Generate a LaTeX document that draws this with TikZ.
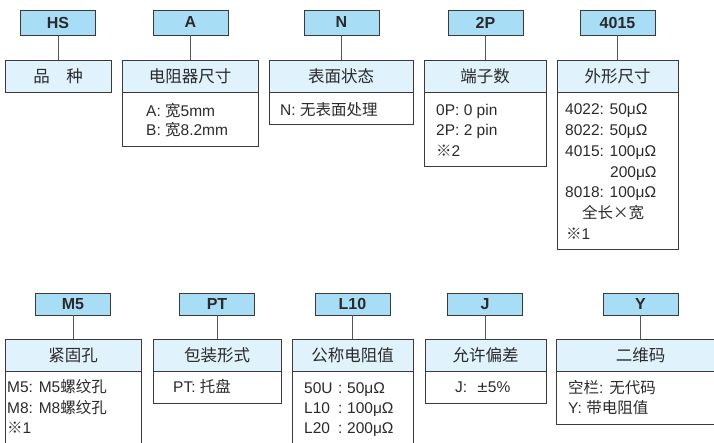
\documentclass[tikz,border=0pt]{standalone}
\usepackage{fontspec}
\setmainfont{Liberation Sans}
\newfontfamily\cjk{Noto Sans CJK SC}
\definecolor{codefill}{HTML}{A8DDF6}
\definecolor{titlefill}{HTML}{E0F2FB}
\definecolor{edgecol}{HTML}{3A3A3A}
\definecolor{wirecol}{HTML}{555555}
\definecolor{ink}{HTML}{2A2A2A}
\tikzset{
  codebox/.style={draw=edgecol, fill=codefill, line width=0.9pt, minimum width=75pt, minimum height=25pt, inner sep=0pt, font=\fontsize{16}{16}\selectfont\bfseries, text=ink},
  titlebox/.style={draw=edgecol, fill=titlefill, line width=0.9pt, inner sep=0pt, font=\cjk\fontsize{16.5}{16.5}\selectfont, text=ink},
  bodybox/.style={draw=edgecol, line width=0.9pt},
  conn/.style={draw=wirecol, line width=0.9pt},
  txt/.style={anchor=base west, inner sep=0pt, font=\fontsize{15.5}{15.5}\selectfont, text=ink},
}
\begin{document}
\begin{tikzpicture}[x=1pt,y=-1pt]
\useasboundingbox (0,0) rectangle (714,443);
% ---------- top row ----------
\draw[bodybox] (122,92) rectangle (258,146);
\draw[bodybox] (269,92) rectangle (413,124);
\draw[bodybox] (424,92) rectangle (546,166);
\draw[bodybox] (557,92) rectangle (678,249);
\node[codebox] (c1) at (58,22.5) {HS};
\node[codebox] (c2) at (190.5,22.5) {A};
\node[codebox] (c3) at (341.5,22.5) {N};
\node[codebox] (c4) at (485.5,22.5) {2P};
\node[codebox] (c5) at (617.5,22.5) {4015};
\node[titlebox, minimum width=106pt, minimum height=31.5pt] (t1) at (58,76.25) {品\hspace{1em}种};
\node[titlebox, minimum width=136pt, minimum height=31.5pt] (t2) at (190,76.25) {电阻器尺寸};
\node[titlebox, minimum width=144pt, minimum height=31.5pt] (t3) at (341,76.25) {表面状态};
\node[titlebox, minimum width=122pt, minimum height=31.5pt] (t4) at (485,76.25) {端子数};
\node[titlebox, minimum width=121pt, minimum height=31.5pt] (t5) at (617.5,76.25) {外形尺寸};
\foreach \i in {1,...,5} {\draw[conn] (c\i.south) -- (c\i.south |- t\i.north);}
\node[txt] (a1) at (146,116.5) {A: {\cjk 宽}5mm};
\node[txt] (a2) at (146,135.5) {B: {\cjk 宽}8.2mm};
\node[txt] (n1) at (280,115.5) {N: {\cjk 无表面处理}};
\node[txt] (p1) at (436,115.5) {0P: 0 pin};
\node[txt] (p2) at (436,135.5) {2P: 2 pin};
\node[txt] (p3) at (436,156.5) {{\cjk ※}2};
\node[txt] (s1) at (565,115) {4022: 50μΩ};
\node[txt] (s2) at (565,135.5) {8022: 50μΩ};
\node[txt] (s3) at (565,156.5) {4015: 100μΩ};
\node[txt] (s4) at (610,177.5) {200μΩ};
\node[txt] (s5) at (565,197.5) {8018: 100μΩ};
\node[txt] (s6) at (582,218.5) {{\cjk 全长×宽}};
\node[txt] (s7) at (566,239.5) {{\cjk ※}1};
% ---------- bottom row ----------
\draw[bodybox] (5,371) rectangle (141,460);
\draw[bodybox] (153,371) rectangle (281,403);
\draw[bodybox] (292,371) rectangle (413,460);
\draw[bodybox] (425,371) rectangle (546,403);
\draw[bodybox] (556,371) rectangle (730,424);
\node[codebox, minimum height=22pt] (d1) at (73,304) {M5};
\node[codebox, minimum height=22pt] (d2) at (217,304) {PT};
\node[codebox, minimum height=22pt] (d3) at (352.5,304) {L10};
\node[codebox, minimum height=22pt] (d4) at (485,304) {J};
\node[codebox, minimum height=22pt] (d5) at (640.5,304) {Y};
\node[titlebox, minimum width=136pt, minimum height=32pt] (u1) at (73,355) {紧固孔};
\node[titlebox, minimum width=128pt, minimum height=32pt] (u2) at (217,355) {包装形式};
\node[titlebox, minimum width=121pt, minimum height=32pt] (u3) at (352.5,355) {公称电阻值};
\node[titlebox, minimum width=121pt, minimum height=32pt] (u4) at (485.5,355) {允许偏差};
\node[titlebox, minimum width=174pt, minimum height=32pt] (u5) at (643,355) {\hspace{-5pt}二维码};
\foreach \i in {1,...,5} {\draw[conn] (d\i.south) -- (d\i.south |- u\i.north);}
\node[txt] (m1) at (7,392.5) {M5: M5{\cjk 螺纹孔}};
\node[txt] (m2) at (7,413.5) {M8: M8{\cjk 螺纹孔}};
\node[txt] (m3) at (7,433.5) {{\cjk ※}1};
\node[txt] (k1) at (173,392.5) {PT: {\cjk 托盘}};
\node[txt] (l1) at (304,393.5) {\makebox[34pt][l]{50U}\makebox[9pt][l]{:}50μΩ};
\node[txt] (l2) at (304,413.5) {\makebox[34pt][l]{L10}\makebox[9pt][l]{:}100μΩ};
\node[txt] (l3) at (304,433.5) {\makebox[34pt][l]{L20}\makebox[9pt][l]{:}200μΩ};
\node[txt] (j1) at (455,392.5) {J:\hspace{10pt}\scalebox{1.2}[1]{±}\hspace{0.5pt}5\%};
\node[txt] (y1) at (568,393.5) {{\cjk 空栏}: {\cjk 无代码}};
\node[txt] (y2) at (568,413.5) {Y: {\cjk 带电阻值}};
\end{tikzpicture}
\end{document}
